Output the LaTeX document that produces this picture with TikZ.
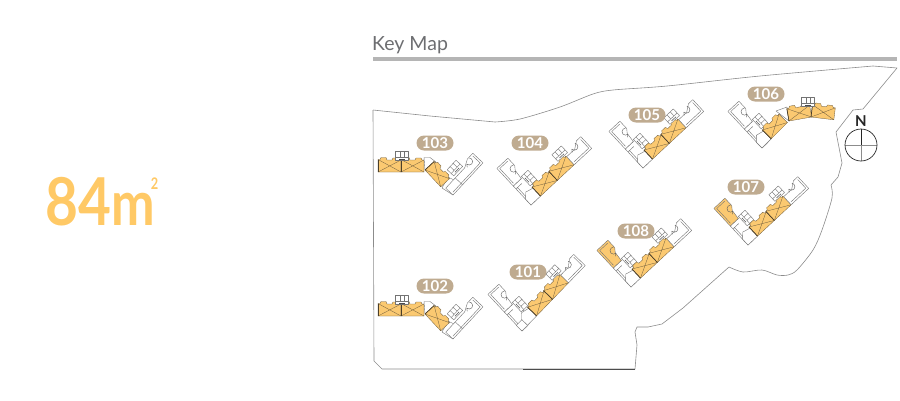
\documentclass[tikz,border=0pt]{standalone}
\usepackage{fontspec}
\setmainfont{Lato}
\definecolor{unitorange}{HTML}{FBC971}
\definecolor{bigorange}{HTML}{FFC966}
\definecolor{pilltan}{HTML}{BFAB90}
\definecolor{headgray}{HTML}{6D6E71}
\definecolor{rulegray}{HTML}{B5B5B5}
\definecolor{sitegray}{HTML}{8C8C8C}
\definecolor{unitdark}{HTML}{6B5A3C}

\tikzset{
  siteline/.style={draw=sitegray, line width=.6pt, line join=round},
  wingline/.style={draw=black!55, line width=.4pt, line join=round},
  unitline/.style={draw=unitdark, line width=.3pt, line join=round},
  pill/.style={fill=pilltan, rounded corners=7.5pt, minimum width=37pt, minimum height=15pt, inner sep=0pt, text=white, font=\bfseries\fontsize{15}{15}\selectfont},
  % one flat, crossed by two lines
  unitbox/.pic={
    \path[unitline, fill=#1] (0,0) -- (23,0) -- (23,-12) -- (21,-12) -- (20,-14) -- (15,-14) -- (14,-12) -- (9,-12) -- (8,-14.5) -- (3,-14.5) -- (2,-12.5) -- (0,-12.5) -- cycle;
    \draw[unitline] (0,0) -- (23,-12) (0,-12.5) -- (23,0);
    \draw[draw=unitdark!70!black, line width=.7pt] (0,0) -- (0,-12.5);
  },
  % lift and stair core
  corebox/.pic={
    \path[wingline, fill=white] (-6.5,-4.5) rectangle (6.5,4.5);
    \draw[wingline] (-2.2,-4.5) -- (-2.2,1) (2.2,-4.5) -- (2.2,1) (-6.5,1) -- (6.5,1);
    \draw[draw=black!70, line width=.5pt] (-3,3) -- (3,3);
  },
  % stair curl on the inner edge
  stairloop/.pic={
    \draw[draw=black!65, line width=.4pt] (-4,0) arc (180:-40:3.5) (-4,0) -- (-6,2.5);
  },
  rightarm/.pic={
    \path[wingline, fill=white] (0,0) -- (13,0) -- (13,-11) -- (5,-13) -- (0,-8) -- cycle;
    \pic[transform shape] at (13,0) {unitbox=unitorange};
    \pic[transform shape] at (36,0) {unitbox=unitorange};
    \pic[transform shape] at (56,-18) {corebox};
    \path[wingline, fill=white] (59,0) -- (83,0) -- (83,-16) -- (77,-16) -- (70,-11) -- (59,-11) -- cycle;
    \draw[wingline] (61,-2.2) -- (81,-2.2) -- (81,-14);
    \pic[transform shape] at (72,-13) {stairloop};
  },
  leftarm/.pic={
    \path[wingline, fill=white] (0,0) -- (26,0) -- (26,-15) -- (6,-15) -- (0,-8) -- cycle;
    \draw[wingline] (2,-2) -- (22,-2) (22,0) -- (22,-8);
    \path[wingline, fill=#1] (26,0) -- (50,0) -- (50,-15) -- (40,-15) -- (36,-12) -- (26,-11) -- cycle;
    \draw[wingline] (28,-2) -- (48,-2) -- (48,-13);
    \pic[transform shape] at (39,-12) {stairloop};
    \pic[transform shape] at (21,-17) {corebox};
  },
  % the wing seen flat, with a plain white end
  endwing/.pic={
    \path[wingline, fill=white] (0,0) -- (44,0) -- (44,-14) -- (36,-14) -- (28,-10) -- (0,-10) -- cycle;
    \draw[wingline] (2,-2) -- (42,-2) -- (42,-12);
    \draw[wingline] (14,0) -- (14,-10);
    \pic[transform shape] at (36,-11) {stairloop};
    \pic[transform shape] at (21,-17) {corebox};
  },
}

% V shaped block: corner point, angle of its long wing, colour of the far end of its short wing, extra length at the corner
\newcommand{\vblock}[4]{
  \begin{scope}[shift={(#1)}]
    \begin{scope}[rotate=-47, xscale=-1]
      \pic[transform shape] {leftarm=#3};
    \end{scope}
    \begin{scope}[rotate=#2]
      \path[wingline, fill=white] (0,0) -- (#4+1,0) -- (#4+1,-8) -- (0,-8) -- cycle;
      \pic[transform shape] at (#4,0) {rightarm};
    \end{scope}
  \end{scope}
}

% block with a flat wing on the west side
\newcommand{\flatblock}[1]{
  \begin{scope}[shift={(#1)}]
    \pic at (0,0) {unitbox=unitorange};
    \pic at (23,0) {unitbox=unitorange};
    \pic at (24,-16) {corebox};
    \path[wingline, fill=white] (46,-14.5) -- (52,-14.5) -- (58,-10) -- (47,-2) -- cycle;
    \path[wingline, fill=white] (64,16) -- (75,23) -- (80,10) -- (70,5) -- cycle;
    \begin{scope}[shift={(75,23)}, rotate=47]
      \pic[transform shape] {endwing};
    \end{scope}
    \begin{scope}[shift={(47,-2)}, rotate=-47]
      \pic[transform shape] {unitbox=unitorange};
    \end{scope}
  \end{scope}
}

\begin{document}
\begin{tikzpicture}[x=1pt, y=-1pt]
\useasboundingbox (0,0) rectangle (900,400);

% Area
\node[text=bigorange, font=\bfseries\fontsize{66}{66}\selectfont, xscale=.86, inner sep=0pt, anchor=base west] (areanum) at (45,225) {84};
\node[text=bigorange, font=\bfseries\fontsize{62}{62}\selectfont, xscale=.84, inner sep=0pt, anchor=base west, text height=33pt, text depth=0pt] (areaunit) at (111,225) {m};
\node[text=bigorange, font=\bfseries\fontsize{16}{16}\selectfont, xscale=.8, inner sep=0pt, anchor=south] (areasup) at (154.5,190) {2};

% Heading
\node[text=headgray, font=\fontsize{19.5}{19.5}\selectfont, inner sep=0pt, anchor=base west] (keymap) at (372,50) {Key Map};
\fill[rulegray] (373,57) rectangle (897,61);

% Site boundary
\draw[siteline] (373,110) -- (430,116) -- (495,122) plot[smooth, tension=.5] coordinates {(495,122) (520,119) (560,107) (593,94) (613,90) (667,86) (760,76) (873,66)};
\draw[siteline] (873,66) -- (897,68) -- (863,109) -- (853,110) -- (836,132) -- (842,163) -- (838,177) -- (831,185);
\draw[siteline] plot[smooth, tension=.5] coordinates {(831,185) (832,198) (822,230) (813,250) (797,270) (788,275) (777,275) (762,270) (743,272) (729,267)};
\draw[siteline] (729,267) -- (683,308) -- (662,324) -- (648,327) -- (637,327) -- (635,332) -- (637,345) -- (635,369) -- (382,369) -- (374,361) -- (373,110);
\draw[draw=black!70, line width=.6pt] (523,369) -- (635,369);

% Blocks
\flatblock{378,172}
\flatblock{378,316}
\vblock{531,205}{43}{white}{0}
\vblock{643,168}{43}{white}{0}
\vblock{522,331}{46}{white}{8}
\vblock{748,245}{43}{unitorange}{0}
\vblock{631,287}{43}{unitorange}{0}

% Block 106 bends away from the others
\begin{scope}[shift={(762,148)}]
  \begin{scope}[rotate=-47, xscale=-1]
    \pic[transform shape] {leftarm=white};
  \end{scope}
  \begin{scope}[rotate=45]
    \path[wingline, fill=white] (0,0) -- (13,0) -- (13,-11) -- (5,-13) -- (0,-8) -- cycle;
    \pic[transform shape] at (13,0) {unitbox=unitorange};
  \end{scope}
\end{scope}
\path[wingline, fill=white] (776,111) -- (787,107) -- (789,121) -- cycle;
\begin{scope}[shift={(789,121)}, rotate=10]
  \pic[transform shape] {unitbox=unitorange};
\end{scope}
\begin{scope}[shift={(811,117)}, rotate=-7]
  \pic[transform shape] {unitbox=unitorange};
\end{scope}
\begin{scope}[shift={(808,102)}]
  \pic {corebox};
\end{scope}

% Block labels
\foreach \name/\x/\y in {103/435/143, 104/530/143, 105/647/115, 106/766/94, 107/746/187, 108/636/231, 101/528/272, 102/435/286}
{
    \node[pill] (lab\name) at (\x,\y) {\name};
}

% North mark
\node[font=\bfseries\fontsize{15}{15}\selectfont, text=black!85, inner sep=0pt] (north) at (861,121) {N};
\draw[draw=black!45, line width=.5pt] (845,145) -- (877,145) (861,145) -- (861,161);
\draw[draw=black!85, line width=1pt] (861,129) -- (861,145);
\draw[draw=black!85, line width=.7pt] (861,145) circle (16);
\end{tikzpicture}
\end{document}
